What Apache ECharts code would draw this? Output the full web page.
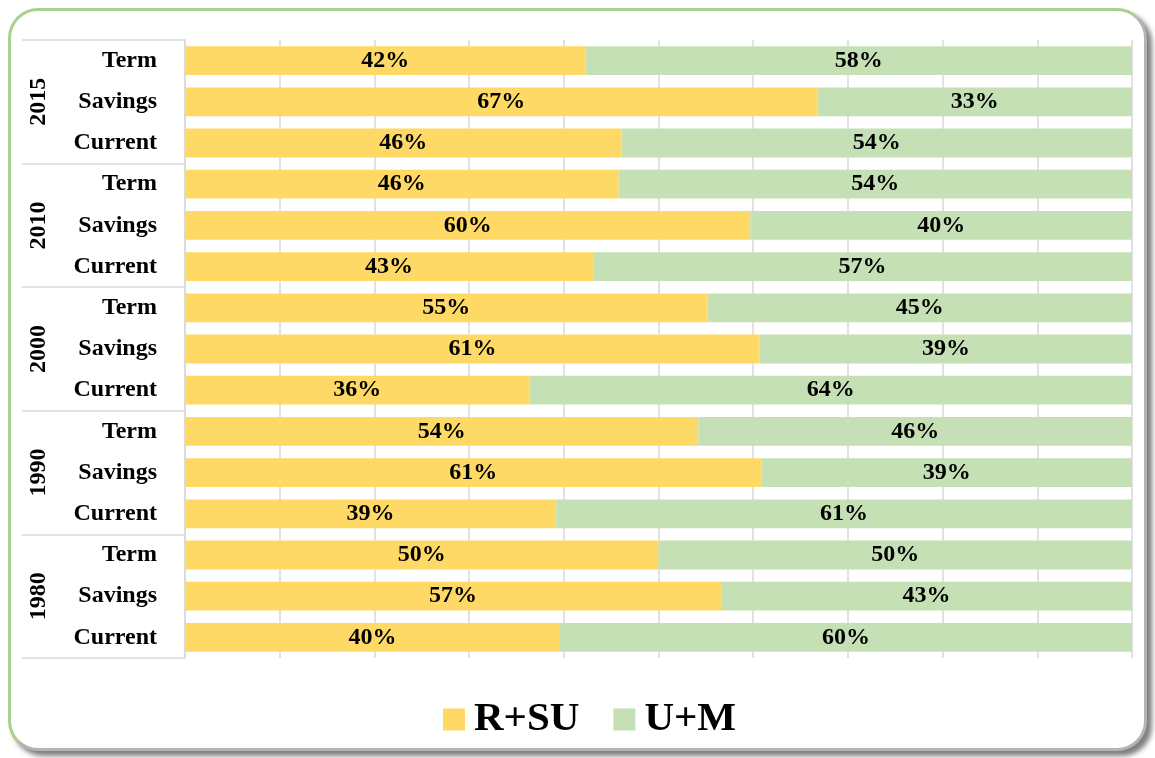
<!DOCTYPE html>
<html>
<head>
<meta charset="utf-8">
<script src="https://cdn.jsdelivr.net/npm/echarts@6/dist/echarts.min.js"></script>
<style>
  html, body { margin: 0; padding: 0; width: 1155px; height: 758px; background: #ffffff; overflow: hidden; }
  #card {
    position: absolute; left: 8px; top: 8px; width: 1139px; height: 743px;
    box-sizing: border-box; border: 3px solid #A9D18E;
    border-right-color: #B4B4B4; border-bottom-color: #B4B4B4;
    border-radius: 30px;
    background: #ffffff; box-shadow: 5px 5px 5px rgba(0,0,0,0.5);
  }
  #chart { position: absolute; left: 0; top: 0; width: 1155px; height: 758px; }
</style>
</head>
<body>
<div id="card"></div>
<div id="chart"></div>
<script>
// Top-to-bottom order
const years = ['2015', '2010', '2000', '1990', '1980'];
const types = ['Term', 'Savings', 'Current'];
const seriesNames = ['R+SU', 'U+M'];
// R+SU share (%) per row, top to bottom
const rsuValues = [42.3, 66.8, 46.1, 45.8, 59.7, 43.1, 55.2, 60.7, 36.4, 54.2, 60.9, 39.2, 50.0, 56.6, 39.6];
// U+M share (%) per row, top to bottom
const umValues  = [57.7, 33.2, 53.9, 54.2, 40.3, 56.9, 44.8, 39.3, 63.6, 45.8, 39.1, 60.8, 50.0, 43.4, 60.4];
const xTicks = [0, 10, 20, 30, 40, 50, 60, 70, 80, 90, 100];

const categories = [];
years.forEach(y => types.forEach(t => categories.push(y + '|' + t)));

const FONT = "'Liberation Serif', 'Times New Roman', serif";
const GRID_COLOR = '#D9D9D9';
const colors = ['#FFD966', '#C5E0B4'];

const chart = echarts.init(document.getElementById('chart'), null, { renderer: 'canvas' });

const labelStyle = {
  show: true,
  position: 'inside',
  color: '#000',
  fontFamily: FONT,
  fontWeight: 'bold',
  fontSize: 24,
  formatter: p => Math.round(p.value) + '%'
};

chart.setOption({
  animation: false,
  color: colors,
  grid: { left: 185, right: 23, top: 40, bottom: 100, containLabel: false },
  legend: {
    data: seriesNames,
    left: 438,
    top: 694,
    icon: 'rect',
    itemWidth: 22,
    itemHeight: 22,
    itemGap: 34,
    textStyle: { fontFamily: FONT, fontWeight: 'bold', fontSize: 41, color: '#000', padding: [0, 0, 0, 4] }
  },
  xAxis: {
    type: 'value',
    min: xTicks[0],
    max: xTicks[xTicks.length - 1],
    interval: xTicks[1] - xTicks[0],
    axisLabel: { show: false },
    axisLine: { show: false },
    axisTick: { show: false },
    splitLine: { show: true, lineStyle: { color: GRID_COLOR, width: 1.5 } }
  },
  yAxis: [
    {
      type: 'category',
      data: categories,
      inverse: true,
      position: 'left',
      axisLine: { show: true, lineStyle: { color: GRID_COLOR, width: 1.5 } },
      axisTick: { show: false },
      axisLabel: {
        margin: 28,
        fontFamily: FONT, fontWeight: 'bold', fontSize: 24, color: '#000',
        formatter: v => v.split('|')[1]
      }
    },
    {
      type: 'category',
      data: years,
      inverse: true,
      position: 'left',
      axisLine: { show: false },
      axisTick: { show: true, length: 163, lineStyle: { color: GRID_COLOR, width: 1.5 } },
      axisLabel: {
        rotate: 90,
        margin: 134,
        fontFamily: FONT, fontWeight: 'bold', fontSize: 24, color: '#000'
      }
    }
  ],
  series: [
    {
      name: seriesNames[0], type: 'bar', stack: 'total', yAxisIndex: 0,
      barCategoryGap: '30%',
      data: rsuValues,
      label: labelStyle
    },
    {
      name: seriesNames[1], type: 'bar', stack: 'total', yAxisIndex: 0,
      barCategoryGap: '30%',
      data: umValues,
      label: labelStyle
    }
  ]
});
</script>
</body>
</html>
